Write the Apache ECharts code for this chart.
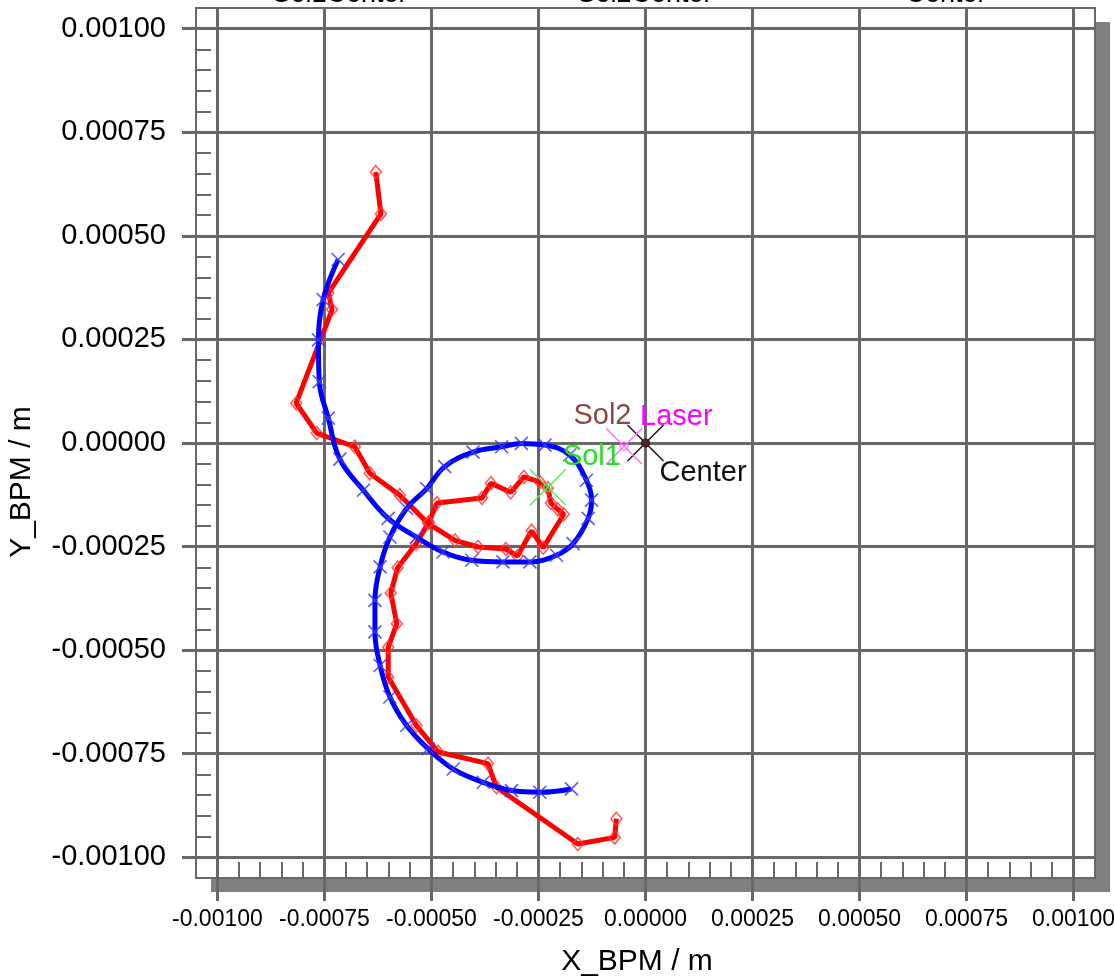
<!DOCTYPE html>
<html>
<head>
<meta charset="utf-8">
<script src="https://cdn.jsdelivr.net/npm/echarts@6/dist/echarts.min.js"></script>
<style>
  html, body { margin: 0; padding: 0; background: #ffffff; }
  #chart { width: 1114px; height: 977px; }
</style>
</head>
<body>
<div id="chart"></div>
<script>
// Axis range and labelled tick values (metres)
const axisMin = -0.00105;
const axisMax = 0.00105;
const majorTicks = [-0.001, -0.00075, -0.0005, -0.00025, 0, 0.00025, 0.0005, 0.00075, 0.001];

// Measured beam positions at the BPM (red, diamonds)
const redX = [-0.000630, -0.000618, -0.000741, -0.000732, -0.000816, -0.000768, -0.000679, -0.000644,
  -0.000574, -0.000508, -0.000445, -0.000391, -0.000326, -0.000299, -0.000266, -0.000239,
  -0.000191, -0.000205, -0.000221, -0.000228, -0.000247, -0.000284, -0.000315, -0.000361,
  -0.000382, -0.000487, -0.000506, -0.000536, -0.000579, -0.000595, -0.000581, -0.000601,
  -0.000601, -0.000535, -0.000484, -0.000368, -0.000348, -0.000158, -0.000072, -0.000068];
const redY = [0.000654, 0.000553, 0.000362, 0.000322, 0.000096, 0.000024, -0.000009, -0.000073,
  -0.000126, -0.000194, -0.000235, -0.000251, -0.000256, -0.000273, -0.000212, -0.000253,
  -0.000172, -0.000160, -0.000145, -0.000109, -0.000094, -0.000082, -0.000119, -0.000097,
  -0.000133, -0.000145, -0.000191, -0.000243, -0.000301, -0.000362, -0.000436, -0.000493,
  -0.000565, -0.000682, -0.000746, -0.000774, -0.000831, -0.000968, -0.000952, -0.000907];

// Fitted spiral trajectory (blue, crosses)
const blueX = [-0.000718, -0.000753, -0.000764, -0.000762, -0.000741, -0.000714, -0.000659, -0.000601,
  -0.000535, -0.000473, -0.000406, -0.000333, -0.000270, -0.000208, -0.000169, -0.000134,
  -0.000126, -0.000138, -0.000177, -0.000235, -0.000290, -0.000336, -0.000403, -0.000469,
  -0.000511, -0.000558, -0.000597, -0.000620, -0.000632, -0.000632, -0.000620, -0.000597,
  -0.000558, -0.000508, -0.000449, -0.000379, -0.000313, -0.000247, -0.000173];
const blueY = [0.000443, 0.000346, 0.000249, 0.000148, 0.000060, -0.000039, -0.000114, -0.000182,
  -0.000227, -0.000263, -0.000283, -0.000287, -0.000287, -0.000271, -0.000243, -0.000182,
  -0.000138, -0.000090, -0.000029, -0.000005, -0.000001, -0.000009, -0.000022, -0.000057,
  -0.000110, -0.000158, -0.000227, -0.000299, -0.000380, -0.000456, -0.000537, -0.000613,
  -0.000682, -0.000738, -0.000787, -0.000819, -0.000839, -0.000843, -0.000835];

// Reference centres
const markerNames = ['Sol2', 'Center', 'Laser', 'Sol1'];
const markerX = [0, 0, -0.000050, -0.000228];
const markerY = [0, 0, -0.000008, -0.000107];
const markerColors = ['#8b4646', '#111111', '#ff00ff', '#22e022'];
const crossColors = ['#8b4646', '#2a2a2a', '#ff6cff', '#55ee55'];

// Column headings along the top edge
const headings = ['Sol1Center', 'Sol2Center', 'Center'];

const minorTicks = [];
for (let k = -20; k <= 20; k++) {
  if (k % 5 !== 0) minorTicks.push(k * 0.00005);
}

const pairs = (xs, ys) => xs.map((x, i) => [x, ys[i]]);
const FONT = '"Liberation Sans", Arial, sans-serif';
const GRID_GRAY = '#686868';
const CROSS = 'path://M0,0L10,10M10,0L0,10';

const chart = echarts.init(document.getElementById('chart'), null, { renderer: 'canvas' });

const gridBox = { left: 196, top: 8, width: 899, height: 870, containLabel: false, outerBoundsMode: 'none' };

const labelOffsets = {
  Sol2: { offset: [-14, -27], align: 'right' },
  Center: { offset: [14, 30], align: 'left' },
  Laser: { offset: [16, -29], align: 'left' },
  Sol1: { offset: [15, -30], align: 'left' }
};

const markerSeries = [];
markerNames.forEach((name, i) => {
  markerSeries.push({
    type: 'scatter',
    name: name,
    z: 6,
    silent: true,
    symbol: CROSS,
    symbolSize: 36,
    itemStyle: { color: 'rgba(0,0,0,0)', borderColor: crossColors[i], borderWidth: 1.3, opacity: 1 },
    label: {
      show: true,
      position: 'inside',
      offset: labelOffsets[name].offset,
      align: labelOffsets[name].align,
      verticalAlign: 'middle',
      formatter: name,
      color: markerColors[i],
      fontFamily: FONT,
      fontSize: 29,
      textBorderWidth: 0
    },
    data: [[markerX[i], markerY[i]]]
  });
  markerSeries.push({
    type: 'scatter',
    z: 7,
    silent: true,
    symbol: 'circle',
    symbolSize: 8,
    itemStyle: name === 'Center' || name === 'Sol2'
      ? { color: '#4a2a2a', borderColor: '#2a1a1a', borderWidth: 1 }
      : { color: 'rgba(0,0,0,0)', borderColor: crossColors[i], borderWidth: 1.5 },
    data: [[markerX[i], markerY[i]]]
  });
});

const option = {
  animation: false,
  backgroundColor: '#ffffff',
  grid: [
    // plot area: white panel with its drop shadow
    Object.assign({
      show: true,
      backgroundColor: '#ffffff',
      borderWidth: 0,
      borderColor: 'rgba(0,0,0,0)',
      shadowColor: '#808080',
      shadowBlur: 0,
      shadowOffsetX: 15,
      shadowOffsetY: 14
    }, gridBox),
    // frame drawn on top, carries the inward minor ticks
    Object.assign({
      show: true,
      backgroundColor: 'rgba(0,0,0,0)',
      borderColor: GRID_GRAY,
      borderWidth: 2
    }, gridBox)
  ],
  xAxis: [
    {
      type: 'value', gridIndex: 0, min: axisMin, max: axisMax, z: 3,
      axisLine: { show: false, onZero: false },
      splitLine: { show: true, lineStyle: { color: GRID_GRAY, width: 3 } },
      axisTick: { show: true, customValues: majorTicks, length: 23, lineStyle: { color: GRID_GRAY, width: 3 } },
      axisLabel: {
        customValues: majorTicks, formatter: v => v.toFixed(5), margin: 30,
        fontFamily: FONT, fontSize: 23, color: '#000'
      }
    },
    {
      type: 'value', gridIndex: 1, min: axisMin, max: axisMax, z: 3,
      axisLine: { show: false, onZero: false }, splitLine: { show: false },
      axisLabel: { show: false },
      axisTick: { show: true, inside: true, customValues: minorTicks, length: 16, lineStyle: { color: GRID_GRAY, width: 2 } }
    }
  ],
  yAxis: [
    {
      type: 'value', gridIndex: 0, min: axisMin, max: axisMax, z: 3,
      axisLine: { show: false, onZero: false },
      splitLine: { show: true, lineStyle: { color: GRID_GRAY, width: 3 } },
      axisTick: { show: true, customValues: majorTicks, length: 14, lineStyle: { color: GRID_GRAY, width: 3 } },
      axisLabel: {
        customValues: majorTicks, formatter: v => v.toFixed(5), margin: 30,
        fontFamily: FONT, fontSize: 29, color: '#000'
      }
    },
    {
      type: 'value', gridIndex: 1, min: axisMin, max: axisMax, z: 3,
      axisLine: { show: false, onZero: false }, splitLine: { show: false },
      axisLabel: { show: false },
      axisTick: { show: true, inside: true, customValues: minorTicks, length: 15, lineStyle: { color: GRID_GRAY, width: 2 } }
    }
  ],
  graphic: [
    { type: 'text', x: 340, y: 8, silent: true,
      style: { text: headings[0], font: '27px ' + FONT, fill: '#000', align: 'center', verticalAlign: 'bottom' } },
    { type: 'text', x: 645, y: 8, silent: true,
      style: { text: headings[1], font: '27px ' + FONT, fill: '#000', align: 'center', verticalAlign: 'bottom' } },
    { type: 'text', x: 946, y: 8, silent: true,
      style: { text: headings[2], font: '27px ' + FONT, fill: '#000', align: 'center', verticalAlign: 'bottom' } },
    { type: 'text', x: 637, y: 962, silent: true,
      style: { text: 'X_BPM / m', font: '30px ' + FONT, fill: '#000', align: 'center', verticalAlign: 'middle' } },
    { type: 'text', x: 22, y: 482, rotation: Math.PI / 2, silent: true,
      style: { text: 'Y_BPM / m', font: '30px ' + FONT, fill: '#000', align: 'center', verticalAlign: 'middle' } }
  ],
  series: [
    {
      type: 'line', name: 'BPM', z: 3, silent: true,
      data: pairs(redX, redY),
      lineStyle: { color: '#ff0000', width: 5 },
      symbol: 'diamond', symbolSize: [11, 13], showAllSymbol: true,
      itemStyle: { color: 'rgba(255,255,255,0)', borderColor: 'rgba(255,50,50,0.8)', borderWidth: 1.6 }
    },
    {
      type: 'line', name: 'Fit', z: 4, silent: true, smooth: 0.4,
      data: pairs(blueX, blueY),
      lineStyle: { color: '#0000ff', width: 5 },
      symbol: CROSS, symbolSize: 13, showAllSymbol: true,
      itemStyle: { color: 'rgba(0,0,0,0)', borderColor: 'rgba(60,60,255,0.85)', borderWidth: 1.6 }
    }
  ].concat(markerSeries)
};

chart.setOption(option);
</script>
</body>
</html>
